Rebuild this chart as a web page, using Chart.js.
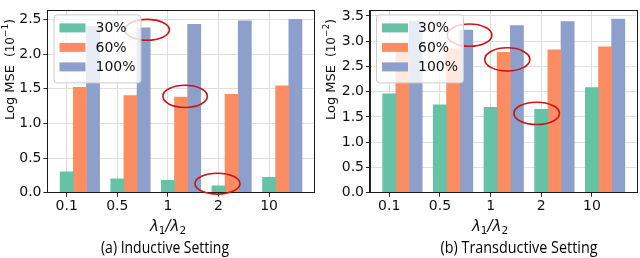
<!DOCTYPE html>
<html>
<head>
<meta charset="utf-8">
<script src="https://cdn.jsdelivr.net/npm/chart.js@4.4.1/dist/chart.umd.min.js"></script>
<style>
  html, body { margin: 0; padding: 0; background: #fff; }
  #wrap { position: relative; width: 640px; height: 258px; overflow: hidden; }
  .panel { position: absolute; top: 0; width: 320px; height: 258px; }
</style>
</head>
<body>
<div id="wrap">
  <div class="panel" style="left:0"><canvas id="cInd"></canvas></div>
  <div class="panel" style="left:320px"><canvas id="cTra"></canvas></div>
</div>
<script>
// ===== Data =====
const ratios = ["0.1", "0.5", "1", "2", "10"];
const seriesNames = ["30%", "60%", "100%"];
const seriesColors = ["#66c2a5", "#fc8d62", "#8da0cb"];

// (a) inductive, Log MSE x 10^-1
const ind30 = [0.30, 0.20, 0.18, 0.10, 0.22];
const ind60 = [1.52, 1.40, 1.38, 1.42, 1.54];
const ind100 = [2.40, 2.38, 2.43, 2.48, 2.50];
const indTicks = [0, 0.5, 1, 1.5, 2, 2.5];

// (b) transductive, Log MSE x 10^-2
const tra30 = [1.96, 1.74, 1.69, 1.65, 2.08];
const tra60 = [2.83, 2.85, 2.78, 2.83, 2.89];
const tra100 = [3.40, 3.22, 3.31, 3.39, 3.44];
const traTicks = [0, 0.5, 1, 1.5, 2, 2.5, 3, 3.5];

// red circled spots: [x, y, rx, ry] in data units
const indMarks = [[1.59, 2.35, 0.44, 0.15], [2.34, 1.39, 0.44, 0.16], [2.98, 0.13, 0.445, 0.15]];
const traMarks = [[1.585, 3.12, 0.44, 0.22], [2.33, 2.64, 0.445, 0.23], [2.91, 1.57, 0.45, 0.22]];

// ===== Helpers =====
const FONT = "'DejaVu Sans', sans-serif";
const BAR_STEP = 0.26;

function drawLegend(ctx, a) {
  const left = a.left + 6, top = a.top + 4, w = 87, h = 68;
  ctx.save();
  ctx.beginPath();
  ctx.roundRect(left + 0.5, top + 0.5, w, h, 3);
  ctx.fillStyle = "rgba(255,255,255,0.8)";
  ctx.fill();
  ctx.strokeStyle = "#cccccc";
  ctx.lineWidth = 1;
  ctx.stroke();
  ctx.font = `14px ${FONT}`;
  ctx.textBaseline = "middle";
  seriesNames.forEach((name, k) => {
    const cy = top + 13.5 + k * 19.5;
    ctx.fillStyle = seriesColors[k];
    ctx.fillRect(left + 6, cy - 4.5, 26, 9);
    ctx.fillStyle = "#111";
    ctx.fillText(name, left + 42, cy + 0.5);
  });
  ctx.restore();
}

function drawYLabel(ctx, x, y0, exp) {
  ctx.save();
  ctx.translate(x, y0);
  ctx.rotate(-Math.PI / 2);
  ctx.fillStyle = "#111";
  ctx.textBaseline = "alphabetic";
  ctx.textAlign = "left";
  let px = 0;
  const put = (t, size, dy) => {
    ctx.font = `${size}px ${FONT}`;
    ctx.fillText(t, px, dy);
    px += ctx.measureText(t).width;
  };
  put("Log MSE", 13, 4.5);
  px += 8;
  put("(10", 12, 4.5);
  put("\u2212" + exp, 9, -1.5);
  put(")", 12, 4.5);
  ctx.restore();
}

function drawXLabel(ctx, cx, base) {
  const parts = [["\u03bb", 15, 0, true], ["1", 10.5, 3, false], ["/", 15, 0, true],
                 ["\u03bb", 15, 0, true], ["2", 10.5, 3, false]];
  ctx.save();
  ctx.fillStyle = "#111";
  ctx.textBaseline = "alphabetic";
  let total = 0;
  parts.forEach(([t, s, , it]) => {
    ctx.font = `${it ? "italic " : ""}${s}px ${FONT}`;
    total += ctx.measureText(t).width;
  });
  let px = cx - total / 2;
  parts.forEach(([t, s, dy, it]) => {
    ctx.font = `${it ? "italic " : ""}${s}px ${FONT}`;
    ctx.fillText(t, px, base + dy);
    px += ctx.measureText(t).width;
  });
  ctx.restore();
}

function drawCaption(ctx, text, cx, cy, width) {
  ctx.save();
  ctx.font = "17px 'Open Sans', sans-serif";
  const w = ctx.measureText(text).width;
  ctx.translate(cx, cy);
  ctx.scale(width / w, 1);
  ctx.fillStyle = "#000";
  ctx.textAlign = "center";
  ctx.textBaseline = "middle";
  ctx.fillText(text, 0, 0);
  ctx.restore();
}

const panelDeco = {
  id: "panelDeco",
  afterDatasetsDraw(chart, args, opts) {
    const { ctx, chartArea: a, scales: { x, y } } = chart;
    // frame (spines)
    ctx.save();
    ctx.strokeStyle = "#1a1a1a";
    ctx.lineWidth = 1;
    ctx.strokeRect(Math.round(a.left) - 0.5, Math.round(a.top) + 0.5,
      Math.round(a.right) - Math.round(a.left) + 1, Math.round(a.bottom) - Math.round(a.top) - 1);
    ctx.restore();
    // circled spots
    ctx.save();
    ctx.strokeStyle = "#c81414";
    ctx.lineWidth = 1.6;
    opts.marks.forEach(([mx, my, rx, ry]) => {
      const cx = x.getPixelForValue(mx), cy = y.getPixelForValue(my);
      const prx = Math.abs(x.getPixelForValue(mx + rx) - cx);
      const pry = Math.abs(y.getPixelForValue(my + ry) - cy);
      ctx.beginPath();
      ctx.ellipse(cx, cy, prx, pry, 0, 0, Math.PI * 2);
      ctx.stroke();
    });
    ctx.restore();
    drawLegend(ctx, a);
  },
  afterDraw(chart, args, opts) {
    const ctx = chart.ctx;
    drawYLabel(ctx, opts.yLabelX, 120, opts.exp);
    drawXLabel(ctx, opts.xLabelX, 231);
    drawCaption(ctx, opts.caption, opts.capX, 248, opts.capW);
  },
};

function makePanel(id, cols, yTicks, yMax, deco) {
  const tickFont = { family: FONT, size: 14 };
  return new Chart(document.getElementById(id), {
    type: "bar",
    data: {
      datasets: cols.map((vals, k) => ({
        label: seriesNames[k],
        data: vals.map((v, i) => ({ x: i + k * BAR_STEP, y: v })),
        backgroundColor: seriesColors[k],
        borderWidth: 0,
        grouped: false,
        barPercentage: 1,
        categoryPercentage: 1,
      })),
    },
    options: {
      responsive: true,
      maintainAspectRatio: false,
      animation: false,
      layout: { padding: { top: 1, right: 320 - deco.right, left: 0, bottom: 0 } },
      plugins: { legend: { display: false }, tooltip: { enabled: false }, panelDeco: deco },
      scales: {
        x: {
          type: "linear",
          min: -0.38,
          max: 4.88,
          offset: false,
          afterBuildTicks: (ax) => { ax.ticks = ratios.map((_, i) => ({ value: i })); },
          afterFit: (ax) => { ax.height = 258 - 192.7; },
          grid: { offset: false, color: "#dedede", tickLength: 4, tickColor: "#222" },
          border: { display: true, color: "#222" },
          ticks: { callback: (v) => ratios[v], font: tickFont, color: "#111", padding: 1, maxRotation: 0, autoSkip: false },
        },
        y: {
          type: "linear",
          min: 0,
          max: yMax,
          afterBuildTicks: (ax) => { ax.ticks = yTicks.map((v) => ({ value: v })); },
          afterFit: (ax) => { ax.width = deco.left; },
          grid: { color: "#dedede", tickLength: 4, tickColor: "#222" },
          border: { display: true, color: "#222" },
          ticks: { callback: (v) => v.toFixed(1), font: tickFont, color: "#111", padding: 2 },
        },
      },
    },
    plugins: [panelDeco],
  });
}

makePanel("cInd", [ind30, ind60, ind100], indTicks, 2.63, {
  left: 47.5, right: 313.6, marks: indMarks, exp: "1",
  yLabelX: 9, xLabelX: 168, caption: "(a) Inductive Setting", capX: 165, capW: 128,
});
makePanel("cTra", [tra30, tra60, tra100], traTicks, 3.61, {
  left: 50, right: 316.5, marks: traMarks, exp: "2",
  yLabelX: 10, xLabelX: 170, caption: "(b) Transductive Setting", capX: 199, capW: 157,
});
</script>
</body>
</html>
